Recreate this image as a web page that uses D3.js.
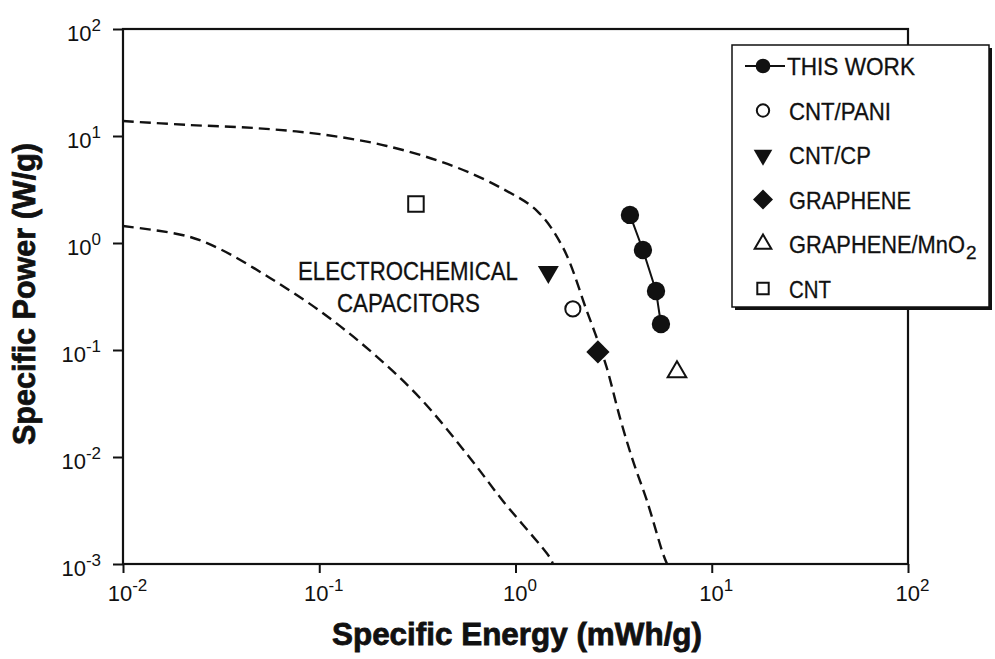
<!DOCTYPE html>
<html>
<head>
<meta charset="utf-8">
<script src="https://cdn.jsdelivr.net/npm/d3@7"></script>
<style>
  body { margin: 0; background: #fff; }
  svg { display: block; }
</style>
</head>
<body>
<svg id="chart" width="995" height="659"></svg>
<script>
// ---- data ----
const xTickExps = [-2, -1, 0, 1, 2];
const yTickExps = [-3, -2, -1, 0, 1, 2];

const seriesNames = ["THIS WORK", "CNT/PANI", "CNT/CP", "GRAPHENE", "GRAPHENE/MnO", "CNT"];
const seriesSubscripts = ["", "", "", "", "2", ""];

// Specific energy (mWh/g) and specific power (W/g)
const thisWorkEnergy = [3.83, 4.46, 5.20, 5.51];
const thisWorkPower  = [1.83, 0.86, 0.356, 0.175];

const cntPaniEnergy = [1.96];
const cntPaniPower  = [0.242];

const cntCpEnergy = [1.47];
const cntCpPower  = [0.536];

const grapheneEnergy = [2.63];
const graphenePower  = [0.0958];

const grapheneMnO2Energy = [6.65];
const grapheneMnO2Power  = [0.0623];

const cntEnergy = [0.311];
const cntPower  = [2.31];

// Boundaries of the electrochemical capacitor region
const upperBoundEnergy = [0.01, 0.0212, 0.0459, 0.101, 0.221, 0.481, 0.863, 1.29, 1.75, 2.31, 2.63, 2.92, 3.41, 3.97, 4.68, 5.65, 5.92];
const upperBoundPower  = [13.8, 12.7, 11.9, 10.4, 8.07, 5.24, 3.2, 1.99, 0.898, 0.231, 0.121, 0.068, 0.0231, 0.00918, 0.00388, 0.00124, 0.001];

const lowerBoundEnergy = [0.01, 0.0212, 0.0312, 0.0561, 0.101, 0.182, 0.326, 0.586, 0.863, 1.50, 1.55];
const lowerBoundPower  = [1.44, 1.16, 0.879, 0.471, 0.231, 0.098, 0.0356, 0.0098, 0.00388, 0.00114, 0.001];

const regionLabel = ["ELECTROCHEMICAL", "CAPACITORS"];
const xTitle = "Specific Energy (mWh/g)";
const yTitle = "Specific Power (W/g)";

// ---- layout ----
const svg = d3.select("#chart");
const plot = { left: 123, right: 908, top: 29, bottom: 564 };
const narrow = "'Liberation Sans Narrow', 'Arial Narrow', 'Liberation Sans', Arial, sans-serif";
const regular = "'Liberation Sans', Arial, sans-serif";
const ink = "#111";

const x = d3.scaleLog().domain([1e-2, 1e2]).range([plot.left, plot.right]);
const y = d3.scaleLog().domain([1e-3, 1e2]).range([plot.bottom, plot.top]);

svg.append("defs").append("clipPath").attr("id", "plotClip")
  .append("rect")
  .attr("x", plot.left).attr("y", plot.top)
  .attr("width", plot.right - plot.left).attr("height", plot.bottom - plot.top);

// Squeeze a text horizontally so that it spans the given width.
function fitWidth(textSel, left, baseline, width) {
  const natural = textSel.node().getComputedTextLength();
  const k = natural > 0 ? width / natural : 1;
  textSel.attr("x", 0).attr("y", 0)
    .attr("transform", `translate(${left},${baseline}) scale(${k},1)`);
}

// ---- region boundaries (dashed) ----
const boundLine = d3.line()
  .x(d => x(d[0])).y(d => y(d[1]))
  .curve(d3.curveCatmullRom.alpha(0.5));

const bounds = [
  d3.zip(upperBoundEnergy, upperBoundPower),
  d3.zip(lowerBoundEnergy, lowerBoundPower)
];
svg.append("g").attr("clip-path", "url(#plotClip)")
  .selectAll("path").data(bounds).join("path")
  .attr("d", boundLine)
  .attr("fill", "none")
  .attr("stroke", ink)
  .attr("stroke-width", 2.4)
  .attr("stroke-dasharray", "11,6");

// ---- axes ----
const xAxis = d3.axisBottom(x)
  .tickValues(xTickExps.map(e => Math.pow(10, e)))
  .tickSize(9).tickFormat("");
const yAxis = d3.axisLeft(y)
  .tickValues(yTickExps.map(e => Math.pow(10, e)))
  .tickSize(10).tickFormat("");

const gx = svg.append("g").attr("transform", `translate(0,${plot.bottom})`).call(xAxis);
const gy = svg.append("g").attr("transform", `translate(${plot.left},0)`).call(yAxis);
[gx, gy].forEach(g => {
  g.select(".domain").remove();
  g.attr("font-size", null).attr("font-family", null);
  g.selectAll(".tick line").attr("stroke", ink).attr("stroke-width", 2);
});

// plot frame
svg.append("rect")
  .attr("x", plot.left).attr("y", plot.top)
  .attr("width", plot.right - plot.left).attr("height", plot.bottom - plot.top)
  .attr("fill", "none").attr("stroke", ink).attr("stroke-width", 2.2);

// power-of-ten tick labels
function powerLabel(sel, exp) {
  sel.append("tspan").attr("font-size", 22).text("10");
  sel.append("tspan").attr("font-size", 17).attr("dy", -10).text(String(exp));
}
gx.selectAll(".tick").each(function (d, i) {
  const t = d3.select(this).append("text")
    .attr("x", 4).attr("y", 37)
    .attr("text-anchor", "middle")
    .attr("fill", ink)
    .attr("font-family", regular)
    .attr("font-size", 22);
  powerLabel(t, xTickExps[i]);
});
gy.selectAll(".tick").each(function (d, i) {
  const t = d3.select(this).append("text")
    .attr("x", -22).attr("y", 11)
    .attr("text-anchor", "end")
    .attr("fill", ink)
    .attr("font-family", regular)
    .attr("font-size", 22);
  powerLabel(t, yTickExps[i]);
});

// axis titles
svg.append("text")
  .attr("x", 332).attr("y", 645)
  .attr("textLength", 370).attr("lengthAdjust", "spacingAndGlyphs")
  .attr("font-family", narrow).attr("font-weight", "bold").attr("font-size", 32)
  .attr("fill", ink).attr("stroke", ink).attr("stroke-width", 0.8)
  .text(xTitle);

svg.append("text")
  .attr("transform", "translate(35,445) rotate(-90)")
  .attr("x", 0).attr("y", 0)
  .attr("textLength", 302).attr("lengthAdjust", "spacingAndGlyphs")
  .attr("font-family", narrow).attr("font-weight", "bold").attr("font-size", 32)
  .attr("fill", ink).attr("stroke", ink).attr("stroke-width", 0.8)
  .text(yTitle);

// region label
const labelLefts = [298, 337];
const labelWidths = [220, 143];
regionLabel.forEach((line, i) => {
  const t = svg.append("text")
    .attr("font-family", narrow).attr("font-size", 26)
    .attr("fill", ink).attr("stroke", ink).attr("stroke-width", 0.3)
    .text(line);
  fitWidth(t, labelLefts[i], 280 + i * 32, labelWidths[i]);
});

// ---- markers ----
const shapes = {
  filledCircle: { type: d3.symbolCircle, fill: ink, stroke: "none", rot: 0 },
  openCircle:   { type: d3.symbolCircle, fill: "#fff", stroke: ink, rot: 0 },
  triDown:      { type: d3.symbolTriangle, fill: ink, stroke: "none", rot: 180 },
  diamond:      { type: d3.symbolSquare, fill: ink, stroke: "none", rot: 45 },
  triUp:        { type: d3.symbolTriangle, fill: "#fff", stroke: ink, rot: 0 },
  openSquare:   { type: d3.symbolSquare, fill: "#fff", stroke: ink, rot: 0 }
};
const seriesShapes = ["filledCircle", "openCircle", "triDown", "diamond", "triUp", "openSquare"];
const plotSizes = [265, 180, 190, 270, 150, 240];
const legendSizes = [170, 120, 150, 200, 120, 130];

function drawMarker(g, shapeKey, size, cx, cy) {
  const s = shapes[shapeKey];
  g.append("path")
    .attr("d", d3.symbol().type(s.type).size(size)())
    .attr("transform", `translate(${cx},${cy}) rotate(${s.rot})`)
    .attr("fill", s.fill)
    .attr("stroke", s.stroke)
    .attr("stroke-width", 2);
}

const series = [
  d3.zip(thisWorkEnergy, thisWorkPower),
  d3.zip(cntPaniEnergy, cntPaniPower),
  d3.zip(cntCpEnergy, cntCpPower),
  d3.zip(grapheneEnergy, graphenePower),
  d3.zip(grapheneMnO2Energy, grapheneMnO2Power),
  d3.zip(cntEnergy, cntPower)
];

const marks = svg.append("g");
marks.append("path")
  .attr("d", d3.line().x(d => x(d[0])).y(d => y(d[1]))(series[0]))
  .attr("fill", "none").attr("stroke", ink).attr("stroke-width", 2);

series.forEach((pts, i) => {
  pts.forEach(p => drawMarker(marks, seriesShapes[i], plotSizes[i], x(p[0]), y(p[1])));
});

// ---- legend ----
const lg = { x: 732, y: 45, w: 257, h: 262 };
const legend = svg.append("g");
legend.append("rect")
  .attr("x", lg.x + 3).attr("y", lg.y + 3).attr("width", lg.w).attr("height", lg.h)
  .attr("fill", ink);
legend.append("rect")
  .attr("x", lg.x).attr("y", lg.y).attr("width", lg.w).attr("height", lg.h)
  .attr("fill", "#fff").attr("stroke", ink).attr("stroke-width", 1.5);

const legendWidths = [128, 102, 82, 122, 176, 42];
seriesNames.forEach((name, i) => {
  const base = 75 + i * 44.5;
  const cy = base - 9;
  const left = i === 0 ? 787 : 789;
  if (i === 0) {
    legend.append("line")
      .attr("x1", 745).attr("x2", 785).attr("y1", cy).attr("y2", cy)
      .attr("stroke", ink).attr("stroke-width", 2);
  }
  drawMarker(legend, seriesShapes[i], legendSizes[i], 763, cy);
  const t = legend.append("text")
    .attr("font-family", narrow).attr("font-size", 24)
    .attr("fill", ink).attr("stroke", ink).attr("stroke-width", 0.3)
    .text(name);
  fitWidth(t, left, base, legendWidths[i]);
  if (seriesSubscripts[i]) {
    legend.append("text")
      .attr("x", left + legendWidths[i] + 1).attr("y", base + 6)
      .attr("font-family", narrow).attr("font-size", 19)
      .attr("fill", ink).attr("stroke", ink).attr("stroke-width", 0.3)
      .text(seriesSubscripts[i]);
  }
});
</script>
</body>
</html>
